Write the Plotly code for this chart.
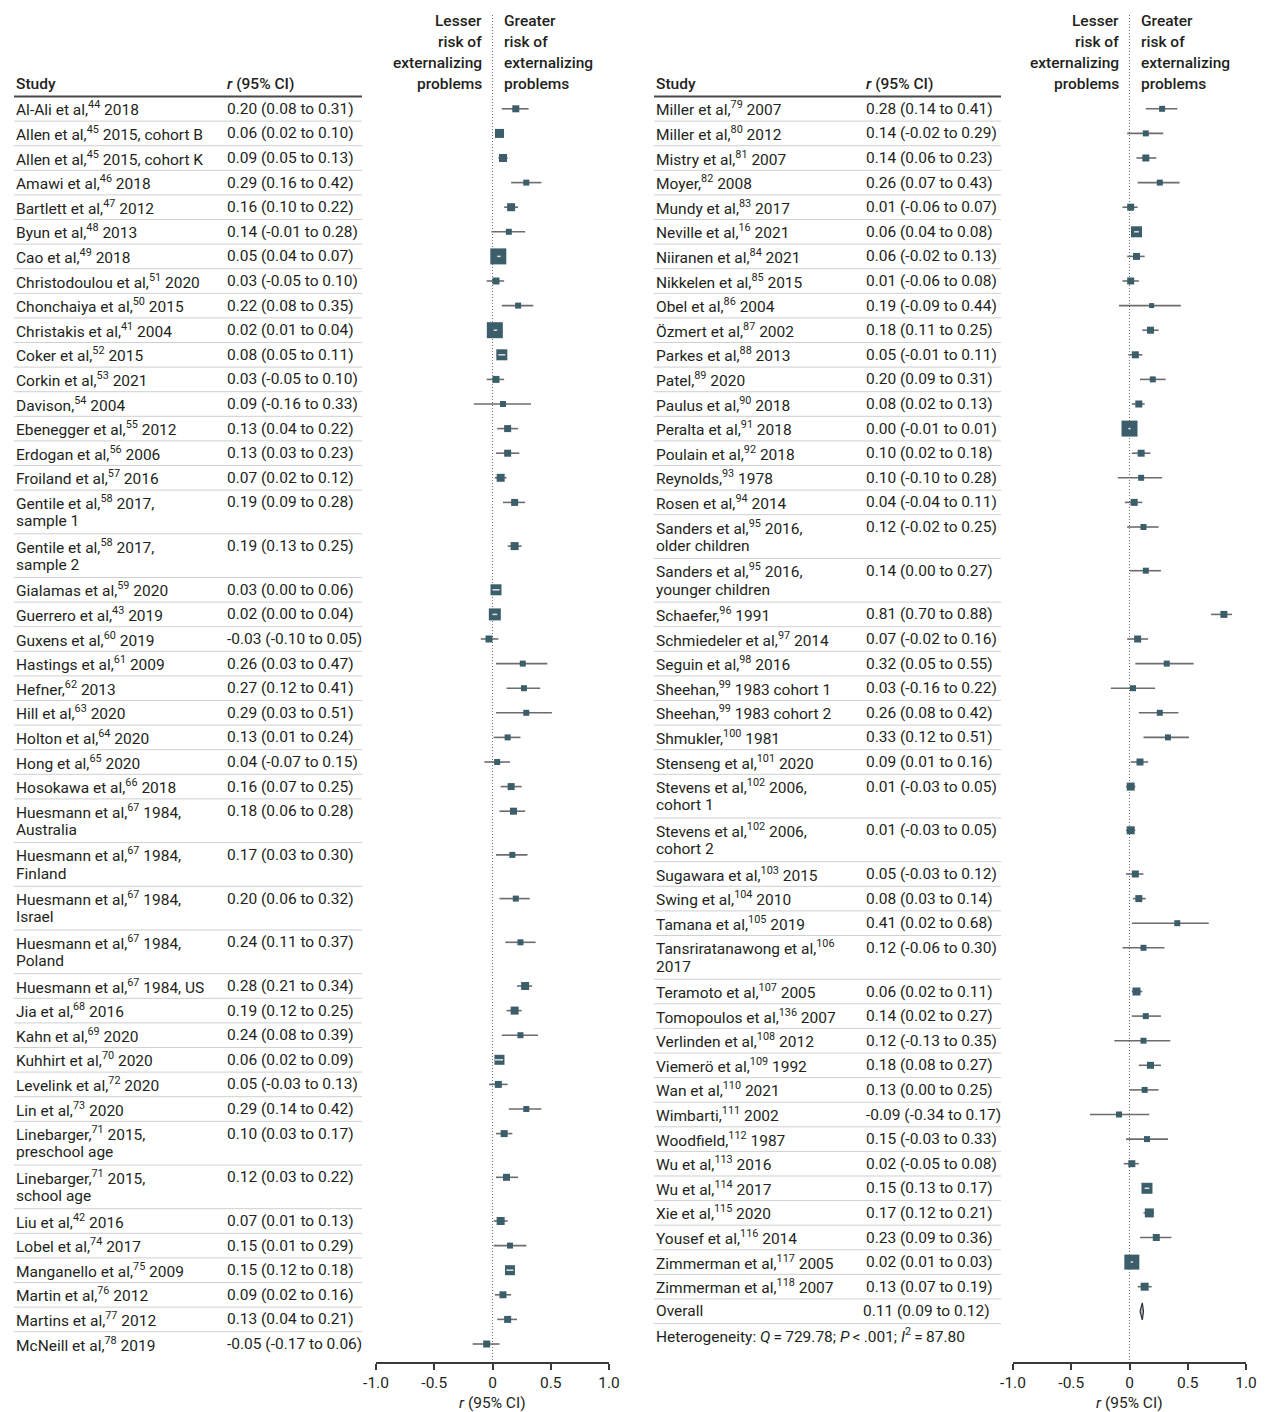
import plotly.graph_objects as go

# ---------------- data ----------------
studies_left = [
    "Al-Ali et al,<sup>44</sup> 2018",
    "Allen et al,<sup>45</sup> 2015, cohort B",
    "Allen et al,<sup>45</sup> 2015, cohort K",
    "Amawi et al,<sup>46</sup> 2018",
    "Bartlett et al,<sup>47</sup> 2012",
    "Byun et al,<sup>48</sup> 2013",
    "Cao et al,<sup>49</sup> 2018",
    "Christodoulou et al,<sup>51</sup> 2020",
    "Chonchaiya et al,<sup>50</sup> 2015",
    "Christakis et al,<sup>41</sup> 2004",
    "Coker et al,<sup>52</sup> 2015",
    "Corkin et al,<sup>53</sup> 2021",
    "Davison,<sup>54</sup> 2004",
    "Ebenegger et al,<sup>55</sup> 2012",
    "Erdogan et al,<sup>56</sup> 2006",
    "Froiland et al,<sup>57</sup> 2016",
    "Gentile et al,<sup>58</sup> 2017,<br>sample 1",
    "Gentile et al,<sup>58</sup> 2017,<br>sample 2",
    "Gialamas et al,<sup>59</sup> 2020",
    "Guerrero et al,<sup>43</sup> 2019",
    "Guxens et al,<sup>60</sup> 2019",
    "Hastings et al,<sup>61</sup> 2009",
    "Hefner,<sup>62</sup> 2013",
    "Hill et al,<sup>63</sup> 2020",
    "Holton et al,<sup>64</sup> 2020",
    "Hong et al,<sup>65</sup> 2020",
    "Hosokawa et al,<sup>66</sup> 2018",
    "Huesmann et al,<sup>67</sup> 1984,<br>Australia",
    "Huesmann et al,<sup>67</sup> 1984,<br>Finland",
    "Huesmann et al,<sup>67</sup> 1984,<br>Israel",
    "Huesmann et al,<sup>67</sup> 1984,<br>Poland",
    "Huesmann et al,<sup>67</sup> 1984, US",
    "Jia et al,<sup>68</sup> 2016",
    "Kahn et al,<sup>69</sup> 2020",
    "Kuhhirt et al,<sup>70</sup> 2020",
    "Levelink et al,<sup>72</sup> 2020",
    "Lin et al,<sup>73</sup> 2020",
    "Linebarger,<sup>71</sup> 2015,<br>preschool age",
    "Linebarger,<sup>71</sup> 2015,<br>school age",
    "Liu et al,<sup>42</sup> 2016",
    "Lobel et al,<sup>74</sup> 2017",
    "Manganello et al,<sup>75</sup> 2009",
    "Martin et al,<sup>76</sup> 2012",
    "Martins et al,<sup>77</sup> 2012",
    "McNeill et al,<sup>78</sup> 2019",
]
r_left = [0.20, 0.06, 0.09, 0.29, 0.16, 0.14, 0.05, 0.03, 0.22, 0.02, 0.08, 0.03, 0.09, 0.13, 0.13,
          0.07, 0.19, 0.19, 0.03, 0.02, -0.03, 0.26, 0.27, 0.29, 0.13, 0.04, 0.16, 0.18, 0.17, 0.20,
          0.24, 0.28, 0.19, 0.24, 0.06, 0.05, 0.29, 0.10, 0.12, 0.07, 0.15, 0.15, 0.09, 0.13, -0.05]
lo_left = [0.08, 0.02, 0.05, 0.16, 0.10, -0.01, 0.04, -0.05, 0.08, 0.01, 0.05, -0.05, -0.16, 0.04, 0.03,
           0.02, 0.09, 0.13, 0.00, 0.00, -0.10, 0.03, 0.12, 0.03, 0.01, -0.07, 0.07, 0.06, 0.03, 0.06,
           0.11, 0.21, 0.12, 0.08, 0.02, -0.03, 0.14, 0.03, 0.03, 0.01, 0.01, 0.12, 0.02, 0.04, -0.17]
hi_left = [0.31, 0.10, 0.13, 0.42, 0.22, 0.28, 0.07, 0.10, 0.35, 0.04, 0.11, 0.10, 0.33, 0.22, 0.23,
           0.12, 0.28, 0.25, 0.06, 0.04, 0.05, 0.47, 0.41, 0.51, 0.24, 0.15, 0.25, 0.28, 0.30, 0.32,
           0.37, 0.34, 0.25, 0.39, 0.09, 0.13, 0.42, 0.17, 0.22, 0.13, 0.29, 0.18, 0.16, 0.21, 0.06]
# study weights shown as box sizes (px)
w_left = [7, 9, 8, 6, 8, 6, 16, 7, 6, 16, 11, 7, 6, 7, 7,
          8, 7, 8, 11, 12, 7, 6, 6, 6, 6, 6, 7, 7, 6, 6,
          6, 8, 8, 6, 10, 7, 6, 7, 7, 8, 6, 10, 7, 7, 7]

studies_right = [
    "Miller et al,<sup>79</sup> 2007",
    "Miller et al,<sup>80</sup> 2012",
    "Mistry et al,<sup>81</sup> 2007",
    "Moyer,<sup>82</sup> 2008",
    "Mundy et al,<sup>83</sup> 2017",
    "Neville et al,<sup>16</sup> 2021",
    "Niiranen et al,<sup>84</sup> 2021",
    "Nikkelen et al,<sup>85</sup> 2015",
    "Obel et al,<sup>86</sup> 2004",
    "Özmert et al,<sup>87</sup> 2002",
    "Parkes et al,<sup>88</sup> 2013",
    "Patel,<sup>89</sup> 2020",
    "Paulus et al,<sup>90</sup> 2018",
    "Peralta et al,<sup>91</sup> 2018",
    "Poulain et al,<sup>92</sup> 2018",
    "Reynolds,<sup>93</sup> 1978",
    "Rosen et al,<sup>94</sup> 2014",
    "Sanders et al,<sup>95</sup> 2016,<br>older children",
    "Sanders et al,<sup>95</sup> 2016,<br>younger children",
    "Schaefer,<sup>96</sup> 1991",
    "Schmiedeler et al,<sup>97</sup> 2014",
    "Seguin et al,<sup>98</sup> 2016",
    "Sheehan,<sup>99</sup> 1983 cohort 1",
    "Sheehan,<sup>99</sup> 1983 cohort 2",
    "Shmukler,<sup>100</sup> 1981",
    "Stenseng et al,<sup>101</sup> 2020",
    "Stevens et al,<sup>102</sup> 2006,<br>cohort 1",
    "Stevens et al,<sup>102</sup> 2006,<br>cohort 2",
    "Sugawara et al,<sup>103</sup> 2015",
    "Swing et al,<sup>104</sup> 2010",
    "Tamana et al,<sup>105</sup> 2019",
    "Tansriratanawong et al,<sup>106</sup><br>2017",
    "Teramoto et al,<sup>107</sup> 2005",
    "Tomopoulos et al,<sup>136</sup> 2007",
    "Verlinden et al,<sup>108</sup> 2012",
    "Viemerö et al,<sup>109</sup> 1992",
    "Wan et al,<sup>110</sup> 2021",
    "Wimbarti,<sup>111</sup> 2002",
    "Woodfield,<sup>112</sup> 1987",
    "Wu et al,<sup>113</sup> 2016",
    "Wu et al,<sup>114</sup> 2017",
    "Xie et al,<sup>115</sup> 2020",
    "Yousef et al,<sup>116</sup> 2014",
    "Zimmerman et al,<sup>117</sup> 2005",
    "Zimmerman et al,<sup>118</sup> 2007",
]
r_right = [0.28, 0.14, 0.14, 0.26, 0.01, 0.06, 0.06, 0.01, 0.19, 0.18, 0.05, 0.20, 0.08, 0.00, 0.10,
           0.10, 0.04, 0.12, 0.14, 0.81, 0.07, 0.32, 0.03, 0.26, 0.33, 0.09, 0.01, 0.01, 0.05, 0.08,
           0.41, 0.12, 0.06, 0.14, 0.12, 0.18, 0.13, -0.09, 0.15, 0.02, 0.15, 0.17, 0.23, 0.02, 0.13]
lo_right = [0.14, -0.02, 0.06, 0.07, -0.06, 0.04, -0.02, -0.06, -0.09, 0.11, -0.01, 0.09, 0.02, -0.01, 0.02,
            -0.10, -0.04, -0.02, 0.00, 0.70, -0.02, 0.05, -0.16, 0.08, 0.12, 0.01, -0.03, -0.03, -0.03, 0.03,
            0.02, -0.06, 0.02, 0.02, -0.13, 0.08, 0.00, -0.34, -0.03, -0.05, 0.13, 0.12, 0.09, 0.01, 0.07]
hi_right = [0.41, 0.29, 0.23, 0.43, 0.07, 0.08, 0.13, 0.08, 0.44, 0.25, 0.11, 0.31, 0.13, 0.01, 0.18,
            0.28, 0.11, 0.25, 0.27, 0.88, 0.16, 0.55, 0.22, 0.42, 0.51, 0.16, 0.05, 0.05, 0.12, 0.14,
            0.68, 0.30, 0.11, 0.27, 0.35, 0.27, 0.25, 0.17, 0.33, 0.08, 0.17, 0.21, 0.36, 0.03, 0.19]
w_right = [6, 6, 7, 6, 7, 11, 7, 7, 5, 7, 7, 6, 7, 16, 7,
           6, 7, 6, 6, 7, 7, 6, 6, 6, 6, 7, 8, 8, 7, 7,
           6, 6, 8, 6, 6, 7, 6, 6, 6, 7, 11, 9, 7, 15, 8]

overall_label = "Overall"
overall_r, overall_lo, overall_hi = 0.11, 0.09, 0.12
heterogeneity = ("Heterogeneity: <i>Q</i>\u2009=\u2009729.78; <i>P</i>\u2009&lt;\u2009.001; "
                 "<i>I</i><sup>2</sup>\u2009=\u200987.80")

tick_vals = [-1.0, -0.5, 0, 0.5, 1.0]
tick_text = ["-1.0", "-0.5", "0", "0.5", "1.0"]
header_left_side = ["Lesser", "risk of", "externalizing", "problems"]
header_right_side = ["Greater", "risk of", "externalizing", "problems"]

# ---------------- style / geometry ----------------
PAGE_W, PAGE_H = 1265, 1412
OFF = 8                      # page body margin
FW, FH = PAGE_W - OFF, PAGE_H - OFF
FONT = "Roboto"
FS = 15.5
TXT = "#231f20"
BOX = "#3b5e6a"
CI_COL = "#6c6c6c"
SEP = "#cfcfcf"
AXIS_BOTTOM = 1362
PX_PER_UNIT = 233 / 2.0


def px(x):
    return (x - OFF) / FW


fig = go.Figure()
annotations = []
shapes = []


def row_layout(labels, top=96.5, h1=24.6, h2=43.7):
    centers, bottoms = [], []
    t = top
    for lab in labels:
        n = lab.count("<br>") + 1
        centers.append(t + 12.3)
        t += h1 if n == 1 else h2
        bottoms.append(t)
    return centers, bottoms


def text(x, y, s, anchor="left", xref="paper", xshift=0, size=FS, weight="normal"):
    annotations.append(dict(
        x=x, y=y, xref=xref, yref="y", text=s,
        showarrow=False, xanchor=anchor, yanchor="middle", xshift=xshift,
        font=dict(family=FONT, size=size, color=TXT, weight=weight)))


def panel(xa, tbl_x0, ci_x0, tbl_x1, labels, r, lo, hi, w, extra=False):
    xref = xa.replace("axis", "")
    all_labels = labels + ([overall_label] if extra else [])
    centers, bottoms = row_layout(all_labels)
    # header
    for i, (a, b) in enumerate(zip(header_left_side, header_right_side)):
        yy = 21 + 21 * i
        text(0, yy, a, anchor="right", xref=xref, xshift=-9, weight=500)
        text(0, yy, b, anchor="left", xref=xref, xshift=9, weight=500)
    text(px(tbl_x0), 84, "Study", weight=500)
    text(px(ci_x0), 84, "<i>r</i> (95% CI)", weight=500)
    shapes.append(dict(type="line", xref="paper", yref="y", x0=px(tbl_x0), x1=px(tbl_x1),
                       y0=96.5, y1=96.5, line=dict(color="#4a4a4a", width=2)))
    # rows
    for lab, c, rr, l, h in zip(labels, centers, r, lo, hi):
        for k, line in enumerate(lab.split("<br>")):
            text(px(tbl_x0), c + 18.8 * k, line)
        text(px(ci_x0), c, "%.2f (%.2f to %.2f)" % (rr, l, h))
    seps = bottoms if extra else bottoms[:-1]
    for b in seps:
        shapes.append(dict(type="line", xref="paper", yref="y", x0=px(tbl_x0), x1=px(tbl_x1),
                           y0=b, y1=b, line=dict(color=SEP, width=1)))
    # zero reference line
    fig.add_trace(go.Scatter(x=[0, 0], y=[15, AXIS_BOTTOM], mode="lines", xaxis=xref, yaxis="y",
                             line=dict(color="#6a6a6a", width=1, dash="1px,2px"),
                             hoverinfo="skip", showlegend=False))
    # CI lines behind boxes (wide intervals) and light dashes on top (narrow intervals)
    bx, by, fx, fy = [], [], [], []
    for rr, l, h, s, c in zip(r, lo, hi, w, centers):
        if (h - l) * PX_PER_UNIT >= s:
            bx += [l, h, None]
            by += [c, c, None]
        else:
            fx += [l, h, None]
            fy += [c, c, None]
    fig.add_trace(go.Scatter(x=bx, y=by, mode="lines", xaxis=xref, yaxis="y",
                             line=dict(color=CI_COL, width=1.6), hoverinfo="skip", showlegend=False))
    fig.add_trace(go.Scatter(x=r, y=centers[:len(r)], mode="markers", xaxis=xref, yaxis="y",
                             marker=dict(symbol="square", size=w, color=BOX, opacity=1,
                                         line=dict(width=0)),
                             showlegend=False))
    fig.add_trace(go.Scatter(x=fx, y=fy, mode="lines", xaxis=xref, yaxis="y",
                             line=dict(color="#e2e2e2", width=1.5), hoverinfo="skip", showlegend=False))
    if extra:
        c = centers[-1]
        text(px(tbl_x0), c, overall_label)
        text(px(ci_x0 - 3), c, "%.2f (%.2f to %.2f)" % (overall_r, overall_lo, overall_hi))
        fig.add_trace(go.Scatter(
            x=[overall_lo, overall_r, overall_hi, overall_r, overall_lo],
            y=[c, c - 8.5, c, c + 8.5, c], mode="lines", fill="toself",
            fillcolor="#9ebdcc", line=dict(color="#2e2e2e", width=1.2),
            xaxis=xref, yaxis="y", hoverinfo="skip", showlegend=False))
        text(px(tbl_x0), bottoms[-1] + 12.3, heterogeneity)
    # axis title
    annotations.append(dict(x=0, xref=xref, y=1 - (1403 - OFF) / FH, yref="paper", showarrow=False,
                            text="<i>r</i> (95% CI)", xanchor="center", yanchor="middle",
                            font=dict(family=FONT, size=FS, color=TXT)))


panel("xaxis", 14, 225, 362, studies_left, r_left, lo_left, hi_left, w_left)
panel("xaxis2", 654, 864, 1001, studies_right, r_right, lo_right, hi_right, w_right, extra=True)

axis_common = dict(range=[-1, 1], tickvals=tick_vals, ticktext=tick_text, showgrid=False,
                   zeroline=False, showline=True, linecolor="#3a3a3a", linewidth=1.5,
                   ticks="outside", ticklen=6, tickwidth=1.5, tickcolor="#3a3a3a",
                   tickfont=dict(family=FONT, size=FS, color=TXT), anchor="y",
                   automargin=False, fixedrange=True)
fig.update_layout(
    template="none",
    width=FW, height=FH, margin=dict(l=0, r=0, t=0, b=0, pad=0), autosize=False,
    paper_bgcolor="white", plot_bgcolor="white",
    xaxis=dict(domain=[px(376), px(609)], **axis_common),
    xaxis2=dict(domain=[px(1013), px(1246)], **axis_common),
    yaxis=dict(domain=[(PAGE_H - AXIS_BOTTOM) / FH, 1], range=[AXIS_BOTTOM, OFF], visible=False,
               automargin=False, fixedrange=True),
    annotations=annotations, shapes=shapes,
    font=dict(family=FONT, color=TXT), showlegend=False,
)
fig.write_html("out.html")
